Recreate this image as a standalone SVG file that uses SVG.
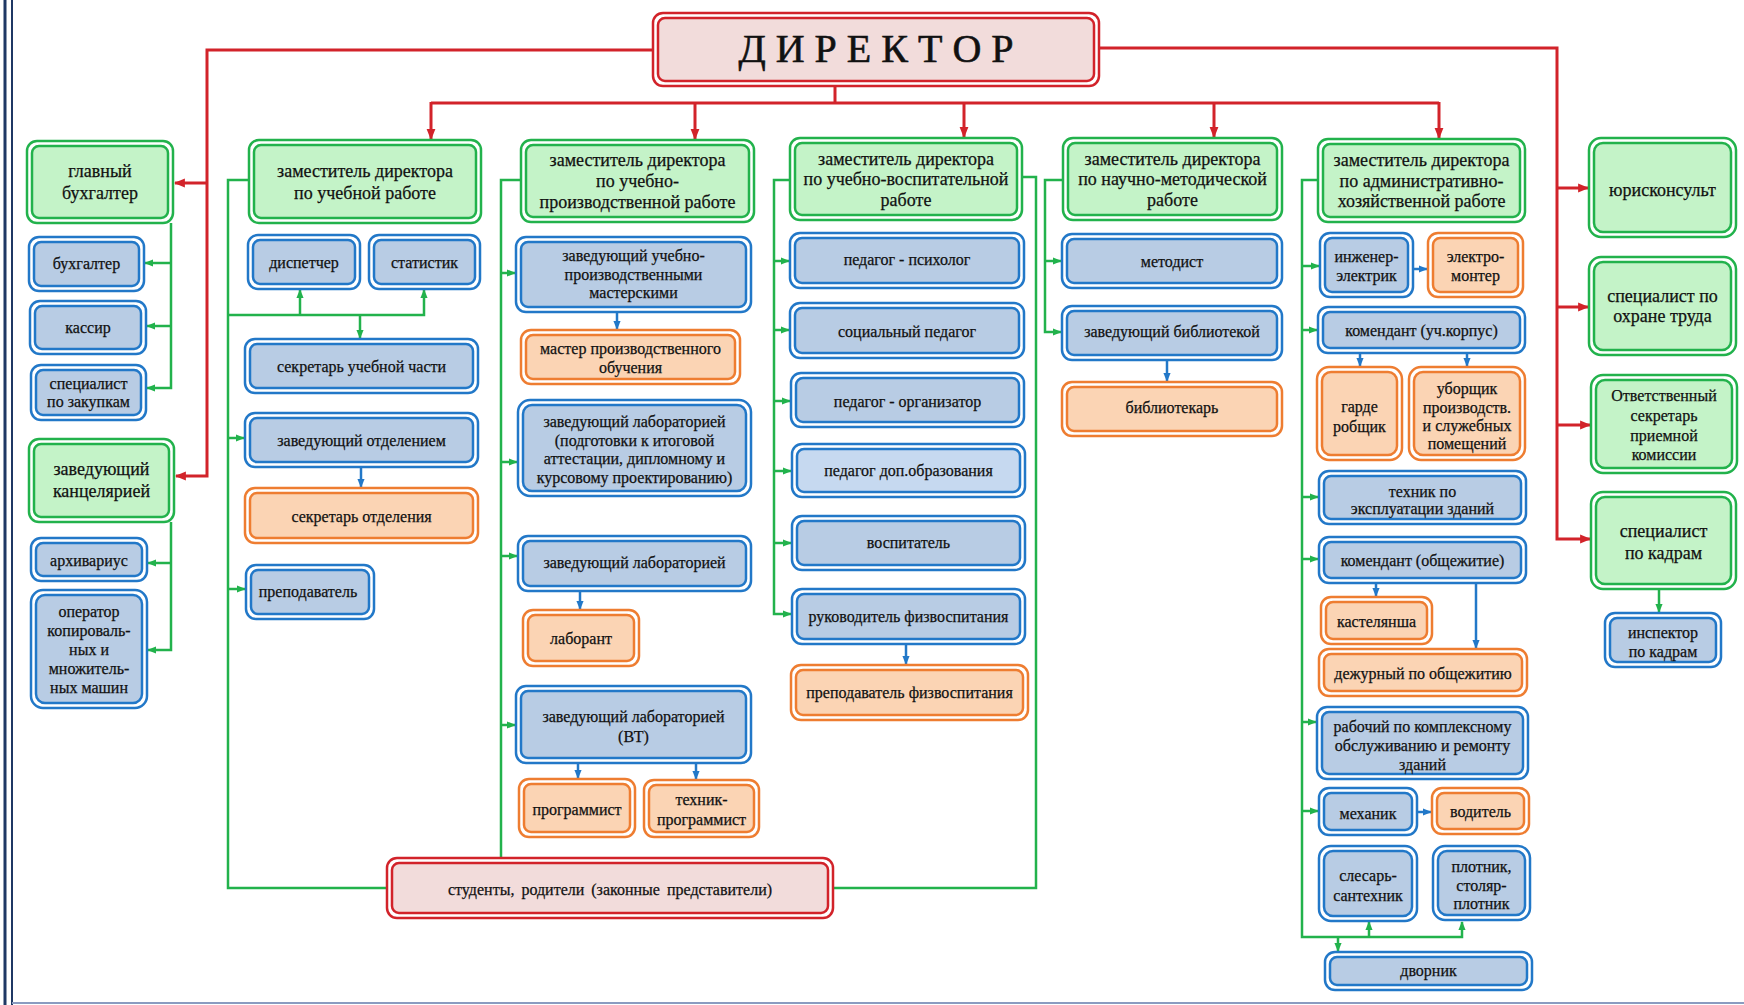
<svg xmlns="http://www.w3.org/2000/svg" width="1744" height="1005" viewBox="0 0 1744 1005">
<style>
.o{fill:#fff;stroke-width:2.5}
.i{stroke-width:2.5}
.g .o,.g .i{stroke:#22B24C}.g .i{fill:#C4F3C8}
.b .o,.b .i{stroke:#2278C8}.b .i{fill:#B8CCE4}
.y .o,.y .i{stroke:#EE7D31}.y .i{fill:#FBD4B4}
.r .o,.r .i{stroke:#D2232A}.r .i{fill:#F2DCDB}
text{font-family:"Liberation Serif","Times New Roman",serif;font-size:16px;fill:#111;stroke:#111;stroke-width:0.25;text-anchor:middle}
.g text{font-size:18px}
.cg{fill:none;stroke:#22B24C;stroke-width:2.5}
.cb{fill:none;stroke:#2278C8;stroke-width:2.5}
.cr{fill:none;stroke:#D2232A;stroke-width:3}
</style>
<defs>
<marker id="ag" viewBox="0 0 10 10" refX="9" refY="5" markerWidth="9" markerHeight="9" markerUnits="userSpaceOnUse" orient="auto"><path d="M0,1 L10,5 L0,9 z" fill="#22B24C"/></marker>
<marker id="ab" viewBox="0 0 10 10" refX="9" refY="5" markerWidth="9" markerHeight="9" markerUnits="userSpaceOnUse" orient="auto"><path d="M0,1 L10,5 L0,9 z" fill="#2278C8"/></marker>
<marker id="ar" viewBox="0 0 10 10" refX="9" refY="5" markerWidth="11" markerHeight="11" markerUnits="userSpaceOnUse" orient="auto"><path d="M0,1 L10,5 L0,9 z" fill="#D2232A"/></marker>
</defs>
<rect x="0" y="0" width="1744" height="1005" fill="#fff"/>
<g id="frame">
<line x1="5" y1="0" x2="5" y2="1005" stroke="#1F3864" stroke-width="3"/>
<line x1="12" y1="0" x2="12" y2="1005" stroke="#1F3864" stroke-width="2"/>
<line x1="12" y1="1003" x2="1744" y2="1003" stroke="#8A9BC0" stroke-width="2"/>
</g>
<g id="connectors">
<path class="cr" d="M653,50 H207 V476 H176" marker-end="url(#ar)"/>
<path class="cr" d="M207,183 H175" marker-end="url(#ar)"/>
<path class="cr" d="M1099,48 H1557 V539 H1590" marker-end="url(#ar)"/>
<path class="cr" d="M1557,188 H1588" marker-end="url(#ar)"/>
<path class="cr" d="M1557,307 H1588" marker-end="url(#ar)"/>
<path class="cr" d="M1557,425 H1590" marker-end="url(#ar)"/>
<path class="cr" d="M835,86 V103"/>
<path class="cr" d="M431,103 H1439"/>
<path class="cr" d="M431,102 V139" marker-end="url(#ar)"/>
<path class="cr" d="M695,103 V139" marker-end="url(#ar)"/>
<path class="cr" d="M964,103 V137" marker-end="url(#ar)"/>
<path class="cr" d="M1214,103 V137" marker-end="url(#ar)"/>
<path class="cr" d="M1439,102 V138" marker-end="url(#ar)"/>
<path class="cg" d="M171,223 V388 H147" marker-end="url(#ag)"/>
<path class="cg" d="M171,263 H145" marker-end="url(#ag)"/>
<path class="cg" d="M171,326 H147" marker-end="url(#ag)"/>
<path class="cg" d="M171,522 V650 H148" marker-end="url(#ag)"/>
<path class="cg" d="M171,563 H148" marker-end="url(#ag)"/>
<path class="cg" d="M249,180 H228 V888 H387"/>
<path class="cg" d="M228,315 H424 V290" marker-end="url(#ag)"/>
<path class="cg" d="M300,315 V290" marker-end="url(#ag)"/>
<path class="cg" d="M360,315 V338" marker-end="url(#ag)"/>
<path class="cg" d="M228,438 H244" marker-end="url(#ag)"/>
<path class="cg" d="M228,589 H245" marker-end="url(#ag)"/>
<path class="cg" d="M521,180 H501 V858"/>
<path class="cg" d="M501,273 H515" marker-end="url(#ag)"/>
<path class="cg" d="M501,462 H517" marker-end="url(#ag)"/>
<path class="cg" d="M501,556 H517" marker-end="url(#ag)"/>
<path class="cg" d="M501,725 H515" marker-end="url(#ag)"/>
<path class="cg" d="M790,180 H774 V614 H791" marker-end="url(#ag)"/>
<path class="cg" d="M774,261 H789" marker-end="url(#ag)"/>
<path class="cg" d="M774,330 H789" marker-end="url(#ag)"/>
<path class="cg" d="M774,401 H790" marker-end="url(#ag)"/>
<path class="cg" d="M774,471 H791" marker-end="url(#ag)"/>
<path class="cg" d="M774,543 H791" marker-end="url(#ag)"/>
<path class="cg" d="M1022,177 H1036 V888 H833"/>
<path class="cg" d="M1063,180 H1045 V332 H1061" marker-end="url(#ag)"/>
<path class="cg" d="M1045,261 H1061" marker-end="url(#ag)"/>
<path class="cg" d="M1318,180 H1302 V937 H1462 V922" marker-end="url(#ag)"/>
<path class="cg" d="M1302,266 H1319" marker-end="url(#ag)"/>
<path class="cg" d="M1302,330 H1317" marker-end="url(#ag)"/>
<path class="cg" d="M1302,497 H1318" marker-end="url(#ag)"/>
<path class="cg" d="M1302,559 H1318" marker-end="url(#ag)"/>
<path class="cg" d="M1302,722 H1316" marker-end="url(#ag)"/>
<path class="cg" d="M1302,811 H1318" marker-end="url(#ag)"/>
<path class="cg" d="M1369,937 V922" marker-end="url(#ag)"/>
<path class="cg" d="M1338,937 V951" marker-end="url(#ag)"/>
<path class="cg" d="M1659,589 V612" marker-end="url(#ag)"/>
<path class="cb" d="M361,467 V487" marker-end="url(#ab)"/>
<path class="cb" d="M617,312 V329" marker-end="url(#ab)"/>
<path class="cb" d="M580,591 V609" marker-end="url(#ab)"/>
<path class="cb" d="M578,763 V778" marker-end="url(#ab)"/>
<path class="cb" d="M696,763 V779" marker-end="url(#ab)"/>
<path class="cb" d="M906,644 V664" marker-end="url(#ab)"/>
<path class="cb" d="M1167,360 V381" marker-end="url(#ab)"/>
<path class="cb" d="M1413,269 H1427" marker-end="url(#ab)"/>
<path class="cb" d="M1360,353 V366" marker-end="url(#ab)"/>
<path class="cb" d="M1467,353 V366" marker-end="url(#ab)"/>
<path class="cb" d="M1376,583 V596" marker-end="url(#ab)"/>
<path class="cb" d="M1476,583 V648" marker-end="url(#ab)"/>
<path class="cb" d="M1417,812 H1431" marker-end="url(#ab)"/>
</g>
<g id="director" class="r"><rect class="o" x="653" y="13" width="446" height="73" rx="10"/><rect class="i" x="658" y="18" width="436" height="63" rx="7"/><text x="876" y="62" style="font-size:40px;stroke-width:0.6">Д И Р Е К Т О Р</text></g>
<g id="glbuh" class="g"><rect class="o" x="27" y="141" width="146" height="82" rx="10"/><rect class="i" x="32" y="146" width="136" height="72" rx="7"/><text x="100"><tspan x="100" y="177">главный</tspan><tspan x="100" y="199">бухгалтер</tspan></text></g>
<g id="buh" class="b"><rect class="o" x="29" y="237" width="115" height="54" rx="10"/><rect class="i" x="34" y="242" width="105" height="44" rx="7"/><text x="86.5" y="269">бухгалтер</text></g>
<g id="kassir" class="b"><rect class="o" x="30" y="301" width="116" height="53" rx="10"/><rect class="i" x="35" y="306" width="106" height="43" rx="7"/><text x="88" y="333">кассир</text></g>
<g id="zakup" class="b"><rect class="o" x="31" y="365" width="115" height="55" rx="10"/><rect class="i" x="36" y="370" width="105" height="45" rx="7"/><text><tspan x="88.5" y="389">специалист</tspan><tspan x="88.5" y="407">по закупкам</tspan></text></g>
<g id="zavkanc" class="g"><rect class="o" x="29" y="439" width="145" height="83" rx="10"/><rect class="i" x="34" y="444" width="135" height="73" rx="7"/><text><tspan x="101.5" y="475">заведующий</tspan><tspan x="101.5" y="497">канцелярией</tspan></text></g>
<g id="arhiv" class="b"><rect class="o" x="31" y="538" width="116" height="43" rx="10"/><rect class="i" x="36" y="543" width="106" height="33" rx="7"/><text x="89" y="566">архивариус</text></g>
<g id="operator" class="b"><rect class="o" x="31" y="590" width="116" height="118" rx="12"/><rect class="i" x="36" y="595" width="106" height="108" rx="9"/><text><tspan x="89" y="617">оператор</tspan><tspan x="89" y="636">копироваль-</tspan><tspan x="89" y="655">ных и</tspan><tspan x="89" y="674">множитель-</tspan><tspan x="89" y="693">ных машин</tspan></text></g>
<g id="zamUR" class="g"><rect class="o" x="249" y="140" width="232" height="83" rx="10"/><rect class="i" x="254" y="145" width="222" height="73" rx="7"/><text><tspan x="365" y="177">заместитель директора</tspan><tspan x="365" y="199">по учебной работе</tspan></text></g>
<g id="dispetcher" class="b"><rect class="o" x="248" y="235" width="112" height="54" rx="10"/><rect class="i" x="253" y="240" width="102" height="44" rx="7"/><text x="304" y="268">диспетчер</text></g>
<g id="statistik" class="b"><rect class="o" x="369" y="235" width="111" height="54" rx="10"/><rect class="i" x="374" y="240" width="101" height="44" rx="7"/><text x="424.5" y="268">статистик</text></g>
<g id="sekrUch" class="b"><rect class="o" x="245" y="339" width="233" height="54" rx="10"/><rect class="i" x="250" y="344" width="223" height="44" rx="7"/><text x="361.5" y="372">секретарь учебной части</text></g>
<g id="zavOtd" class="b"><rect class="o" x="245" y="413" width="233" height="54" rx="10"/><rect class="i" x="250" y="418" width="223" height="44" rx="7"/><text x="361.5" y="446">заведующий отделением</text></g>
<g id="sekrOtd" class="y"><rect class="o" x="245" y="488" width="233" height="55" rx="10"/><rect class="i" x="250" y="493" width="223" height="45" rx="7"/><text x="361.5" y="522">секретарь отделения</text></g>
<g id="prepod" class="b"><rect class="o" x="246" y="565" width="128" height="54" rx="10"/><rect class="i" x="251" y="570" width="118" height="44" rx="7"/><text x="308" y="597">преподаватель</text></g>
<g id="zamUPR" class="g"><rect class="o" x="521" y="140" width="233" height="82" rx="10"/><rect class="i" x="526" y="145" width="223" height="72" rx="7"/><text><tspan x="637.5" y="166">заместитель директора</tspan><tspan x="637.5" y="187">по учебно-</tspan><tspan x="637.5" y="208">производственной работе</tspan></text></g>
<g id="zavUPM" class="b"><rect class="o" x="516" y="237" width="235" height="75" rx="10"/><rect class="i" x="521" y="242" width="225" height="65" rx="7"/><text><tspan x="633.5" y="261">заведующий учебно-</tspan><tspan x="633.5" y="280">производственными</tspan><tspan x="633.5" y="298">мастерскими</tspan></text></g>
<g id="master" class="y"><rect class="o" x="521" y="330" width="219" height="54" rx="10"/><rect class="i" x="526" y="335" width="209" height="44" rx="7"/><text><tspan x="630.5" y="354">мастер производственного</tspan><tspan x="630.5" y="373">обучения</tspan></text></g>
<g id="zavLabPodg" class="b"><rect class="o" x="518" y="400" width="233" height="96" rx="12"/><rect class="i" x="523" y="405" width="223" height="86" rx="9"/><text><tspan x="634.5" y="427">заведующий лабораторией</tspan><tspan x="634.5" y="446">(подготовки к итоговой</tspan><tspan x="634.5" y="464">аттестации, дипломному и</tspan><tspan x="634.5" y="483">курсовому проектированию)</tspan></text></g>
<g id="zavLab" class="b"><rect class="o" x="518" y="536" width="233" height="55" rx="10"/><rect class="i" x="523" y="541" width="223" height="45" rx="7"/><text x="634.5" y="568">заведующий лабораторией</text></g>
<g id="laborant" class="y"><rect class="o" x="523" y="610" width="116" height="56" rx="10"/><rect class="i" x="528" y="615" width="106" height="46" rx="7"/><text x="581" y="644">лаборант</text></g>
<g id="zavLabVT" class="b"><rect class="o" x="516" y="686" width="235" height="77" rx="10"/><rect class="i" x="521" y="691" width="225" height="67" rx="7"/><text><tspan x="633.5" y="722">заведующий лабораторией</tspan><tspan x="633.5" y="742">(ВТ)</tspan></text></g>
<g id="programmist" class="y"><rect class="o" x="519" y="779" width="116" height="58" rx="10"/><rect class="i" x="524" y="784" width="106" height="48" rx="7"/><text x="577" y="815">программист</text></g>
<g id="tehnikProg" class="y"><rect class="o" x="644" y="780" width="115" height="57" rx="10"/><rect class="i" x="649" y="785" width="105" height="47" rx="7"/><text><tspan x="701.5" y="805">техник-</tspan><tspan x="701.5" y="825">программист</tspan></text></g>
<g id="studenty" class="r"><rect class="o" x="387" y="858" width="446" height="60" rx="10"/><rect class="i" x="392" y="863" width="436" height="50" rx="7"/><text x="610" y="895" style="word-spacing:3px">студенты, родители (законные представители)</text></g>
<g id="zamUVR" class="g"><rect class="o" x="790" y="138" width="232" height="82" rx="10"/><rect class="i" x="795" y="143" width="222" height="72" rx="7"/><text><tspan x="906" y="165">заместитель директора</tspan><tspan x="906" y="185">по учебно-воспитательной</tspan><tspan x="906" y="206">работе</tspan></text></g>
<g id="pedPsih" class="b"><rect class="o" x="790" y="233" width="234" height="55" rx="10"/><rect class="i" x="795" y="238" width="224" height="45" rx="7"/><text x="907" y="265">педагог - психолог</text></g>
<g id="socPed" class="b"><rect class="o" x="790" y="303" width="234" height="55" rx="10"/><rect class="i" x="795" y="308" width="224" height="45" rx="7"/><text x="907" y="337">социальный педагог</text></g>
<g id="pedOrg" class="b"><rect class="o" x="791" y="373" width="233" height="54" rx="10"/><rect class="i" x="796" y="378" width="223" height="44" rx="7"/><text x="907.5" y="407">педагог - организатор</text></g>
<g id="pedDop" class="b"><rect class="o" x="792" y="444" width="233" height="53" rx="10"/><rect class="i" x="797" y="449" width="223" height="43" rx="7" style="fill:#C6D9F0"/><text x="908.5" y="476">педагог доп.образования</text></g>
<g id="vospitatel" class="b"><rect class="o" x="792" y="516" width="233" height="54" rx="10"/><rect class="i" x="797" y="521" width="223" height="44" rx="7"/><text x="908.5" y="548">воспитатель</text></g>
<g id="rukFiz" class="b"><rect class="o" x="792" y="589" width="233" height="55" rx="10"/><rect class="i" x="797" y="594" width="223" height="45" rx="7"/><text x="908.5" y="622">руководитель физвоспитания</text></g>
<g id="prepodFiz" class="y"><rect class="o" x="791" y="665" width="237" height="55" rx="10"/><rect class="i" x="796" y="670" width="227" height="45" rx="7"/><text x="909.5" y="698">преподаватель физвоспитания</text></g>
<g id="zamNMR" class="g"><rect class="o" x="1063" y="138" width="219" height="82" rx="10"/><rect class="i" x="1068" y="143" width="209" height="72" rx="7"/><text><tspan x="1172.5" y="165">заместитель директора</tspan><tspan x="1172.5" y="185">по научно-методической</tspan><tspan x="1172.5" y="206">работе</tspan></text></g>
<g id="metodist" class="b"><rect class="o" x="1062" y="234" width="220" height="54" rx="10"/><rect class="i" x="1067" y="239" width="210" height="44" rx="7"/><text x="1172" y="267">методист</text></g>
<g id="zavBibl" class="b"><rect class="o" x="1062" y="306" width="220" height="54" rx="10"/><rect class="i" x="1067" y="311" width="210" height="44" rx="7"/><text x="1172" y="337">заведующий библиотекой</text></g>
<g id="bibliotekar" class="y"><rect class="o" x="1062" y="382" width="220" height="54" rx="10"/><rect class="i" x="1067" y="387" width="210" height="44" rx="7"/><text x="1172" y="413">библиотекарь</text></g>
<g id="zamAHR" class="g"><rect class="o" x="1318" y="139" width="207" height="83" rx="10"/><rect class="i" x="1323" y="144" width="197" height="73" rx="7"/><text><tspan x="1421.5" y="166">заместитель директора</tspan><tspan x="1421.5" y="187">по административно-</tspan><tspan x="1421.5" y="207">хозяйственной работе</tspan></text></g>
<g id="inzhEl" class="b"><rect class="o" x="1320" y="233" width="93" height="64" rx="10"/><rect class="i" x="1325" y="238" width="83" height="54" rx="7"/><text><tspan x="1366.5" y="262">инженер-</tspan><tspan x="1366.5" y="281">электрик</tspan></text></g>
<g id="elektromonter" class="y"><rect class="o" x="1428" y="233" width="95" height="64" rx="10"/><rect class="i" x="1433" y="238" width="85" height="54" rx="7"/><text><tspan x="1475.5" y="262">электро-</tspan><tspan x="1475.5" y="281">монтер</tspan></text></g>
<g id="komUch" class="b"><rect class="o" x="1318" y="307" width="207" height="46" rx="10"/><rect class="i" x="1323" y="312" width="197" height="36" rx="7"/><text x="1421.5" y="336">комендант (уч.корпус)</text></g>
<g id="garderob" class="y"><rect class="o" x="1317" y="367" width="85" height="93" rx="12"/><rect class="i" x="1322" y="372" width="75" height="83" rx="9"/><text><tspan x="1359.5" y="412">гарде</tspan><tspan x="1359.5" y="432">робщик</tspan></text></g>
<g id="uborshik" class="y"><rect class="o" x="1409" y="367" width="116" height="93" rx="12"/><rect class="i" x="1414" y="372" width="106" height="83" rx="9"/><text><tspan x="1467" y="394">уборщик</tspan><tspan x="1467" y="413">производств.</tspan><tspan x="1467" y="431">и служебных</tspan><tspan x="1467" y="449">помещений</tspan></text></g>
<g id="tehnikExpl" class="b"><rect class="o" x="1319" y="471" width="207" height="53" rx="10"/><rect class="i" x="1324" y="476" width="197" height="43" rx="7"/><text><tspan x="1422.5" y="497">техник по</tspan><tspan x="1422.5" y="514">эксплуатации зданий</tspan></text></g>
<g id="komObsh" class="b"><rect class="o" x="1319" y="537" width="207" height="46" rx="10"/><rect class="i" x="1324" y="542" width="197" height="36" rx="7"/><text x="1422.5" y="566">комендант (общежитие)</text></g>
<g id="kastelyansha" class="y"><rect class="o" x="1321" y="597" width="111" height="47" rx="10"/><rect class="i" x="1326" y="602" width="101" height="37" rx="7"/><text x="1376.5" y="627">кастелянша</text></g>
<g id="dezhurny" class="y"><rect class="o" x="1319" y="649" width="208" height="47" rx="10"/><rect class="i" x="1324" y="654" width="198" height="37" rx="7"/><text x="1423" y="679">дежурный по общежитию</text></g>
<g id="rabochiy" class="b"><rect class="o" x="1317" y="707" width="211" height="72" rx="10"/><rect class="i" x="1322" y="712" width="201" height="62" rx="7"/><text><tspan x="1422.5" y="732">рабочий по комплексному</tspan><tspan x="1422.5" y="751">обслуживанию и ремонту</tspan><tspan x="1422.5" y="770">зданий</tspan></text></g>
<g id="mehanik" class="b"><rect class="o" x="1319" y="788" width="98" height="47" rx="10"/><rect class="i" x="1324" y="793" width="88" height="37" rx="7"/><text x="1368" y="819">механик</text></g>
<g id="voditel" class="y"><rect class="o" x="1432" y="788" width="97" height="46" rx="10"/><rect class="i" x="1437" y="793" width="87" height="36" rx="7"/><text x="1480.5" y="817">водитель</text></g>
<g id="slesar" class="b"><rect class="o" x="1319" y="846" width="98" height="75" rx="12"/><rect class="i" x="1324" y="851" width="88" height="65" rx="9"/><text><tspan x="1368" y="881">слесарь-</tspan><tspan x="1368" y="901">сантехник</tspan></text></g>
<g id="plotnik" class="b"><rect class="o" x="1433" y="846" width="97" height="74" rx="12"/><rect class="i" x="1438" y="851" width="87" height="64" rx="9"/><text><tspan x="1481.5" y="872">плотник,</tspan><tspan x="1481.5" y="891">столяр-</tspan><tspan x="1481.5" y="909">плотник</tspan></text></g>
<g id="dvornik" class="b"><rect class="o" x="1325" y="952" width="207" height="38" rx="10"/><rect class="i" x="1330" y="957" width="197" height="28" rx="7"/><text x="1428.5" y="976">дворник</text></g>
<g id="yurisk" class="g"><rect class="o" x="1589" y="138" width="147" height="99" rx="12"/><rect class="i" x="1594" y="143" width="137" height="89" rx="9"/><text x="1662.5" y="196">юрисконсульт</text></g>
<g id="specOT" class="g"><rect class="o" x="1589" y="257" width="147" height="98" rx="12"/><rect class="i" x="1594" y="262" width="137" height="88" rx="9"/><text><tspan x="1662.5" y="302">специалист по</tspan><tspan x="1662.5" y="322">охране труда</tspan></text></g>
<g id="otvSekr" class="g"><rect class="o" x="1591" y="375" width="146" height="98" rx="12"/><rect class="i" x="1596" y="380" width="136" height="88" rx="9"/><text style="font-size:16px"><tspan x="1664" y="401">Ответственный</tspan><tspan x="1664" y="421">секретарь</tspan><tspan x="1664" y="441">приемной</tspan><tspan x="1664" y="460">комиссии</tspan></text></g>
<g id="specKadry" class="g"><rect class="o" x="1591" y="492" width="145" height="97" rx="12"/><rect class="i" x="1596" y="497" width="135" height="87" rx="9"/><text><tspan x="1663.5" y="537">специалист</tspan><tspan x="1663.5" y="559">по кадрам</tspan></text></g>
<g id="inspektor" class="b"><rect class="o" x="1605" y="613" width="116" height="54" rx="10"/><rect class="i" x="1610" y="618" width="106" height="44" rx="7"/><text><tspan x="1663" y="638">инспектор</tspan><tspan x="1663" y="657">по кадрам</tspan></text></g>
</svg>
